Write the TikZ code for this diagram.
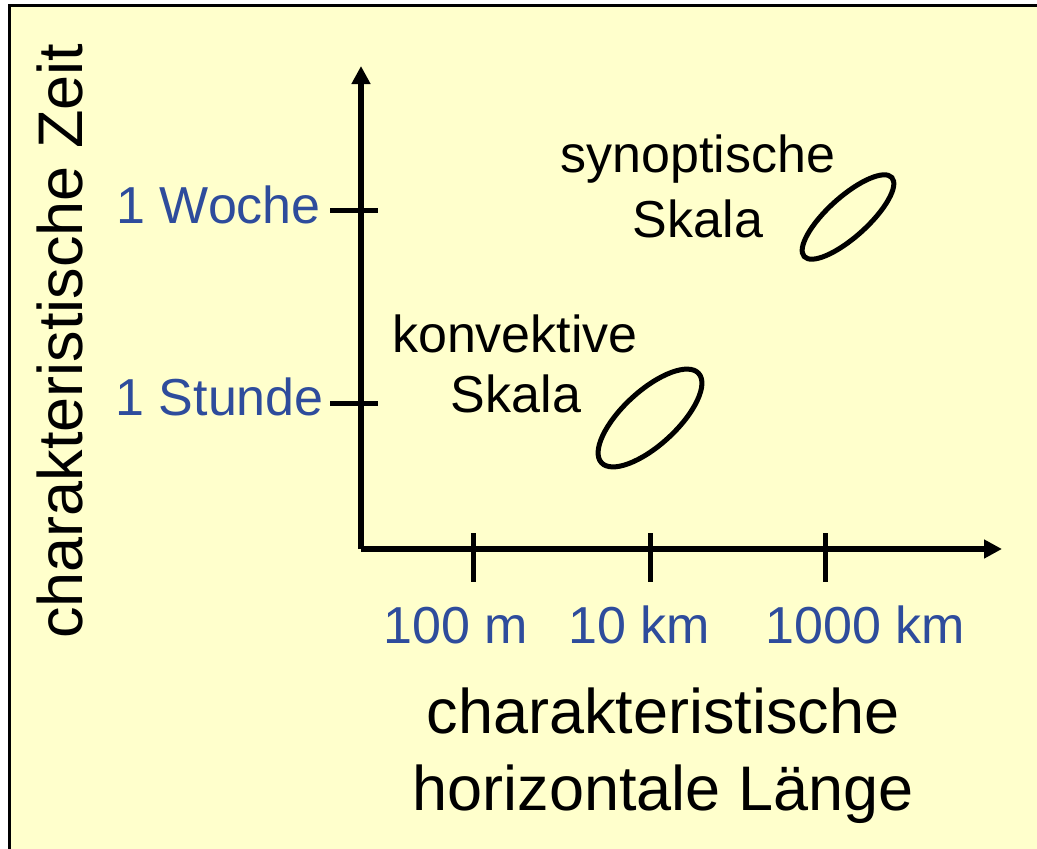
\documentclass[tikz,border=0pt]{standalone}
\usepackage{fontspec}
\setmainfont{Liberation Sans}
\usetikzlibrary{arrows.meta}
\definecolor{bg}{RGB}{255,255,204}
\definecolor{lblue}{RGB}{46,76,156}
\begin{document}
\begin{tikzpicture}[x=1pt,y=-1pt,
  axisline/.style={line width=5.5pt, -{Triangle[length=18pt,width=18pt]}},
  tickline/.style={line width=5pt},
  blob/.style={line width=5pt},
  lbl/.style={inner sep=0pt, font=\fontsize{52}{60}\selectfont},
  bluelbl/.style={lbl, text=lblue},
  biglbl/.style={inner sep=0pt, font=\fontsize{63}{75}\selectfont}]
\useasboundingbox (0,0) rectangle (1037,849);
\clip (0,0) rectangle (1037,849);
\draw[fill=bg, line width=3pt] (9.5,5.5) rectangle (1060,870);
% axes
\coordinate (O) at (361,549);
\coordinate (xend) at (1002,549);
\coordinate (yend) at (361,66);
\draw[axisline] (O) -- (xend);
\draw[axisline] (O) -- (yend);
% ticks y
\coordinate (tw1) at (330,210); \coordinate (tw2) at (378,210);
\coordinate (ts1) at (330,403); \coordinate (ts2) at (378,403);
\draw[tickline] (tw1) -- (tw2);
\draw[tickline] (ts1) -- (ts2);
% ticks x
\coordinate (ta1) at (473,533); \coordinate (ta2) at (473,582);
\coordinate (tb1) at (650,533); \coordinate (tb2) at (650,582);
\coordinate (tc1) at (825,533); \coordinate (tc2) at (825,582);
\draw[tickline] (ta1) -- (ta2);
\draw[tickline] (tb1) -- (tb2);
\draw[tickline] (tc1) -- (tc2);
% tick labels
\node[bluelbl, anchor=base east] (woche) at (321,223) {1 Woche};
\node[bluelbl, anchor=base east] (stunde) at (324,415) {1 Stunde};
\node[bluelbl, anchor=base] (m100) at (456,643) {100 m};
\node[bluelbl, anchor=base] (km10) at (639,643) {10 km};
\node[bluelbl, anchor=base] (km1000) at (865,643) {1000 km};
% axis titles
\node[biglbl, rotate=90, anchor=base] (ylab) at (82,341) {charakteristische Zeit};
\node[biglbl, anchor=base] (xlab1) at (663,733) {charakteristische};
\node[biglbl, anchor=base] (xlab2) at (663,810) {horizontale Länge};
% scales
\node[lbl, anchor=base] (syn1) at (698,172) {synoptische};
\node[lbl, anchor=base] (syn2) at (698,237) {Skala};
\node[lbl, anchor=base] (kon1) at (515,352) {konvektive};
\node[lbl, anchor=base] (kon2) at (516,412) {Skala};
\draw[blob, rotate around={42:(848,217)}] (848,217) ellipse [x radius=59pt, y radius=20pt];
\draw[blob, rotate around={42.6:(650,418)}] (650,418) ellipse [x radius=66pt, y radius=27pt];
\end{tikzpicture}
\end{document}
